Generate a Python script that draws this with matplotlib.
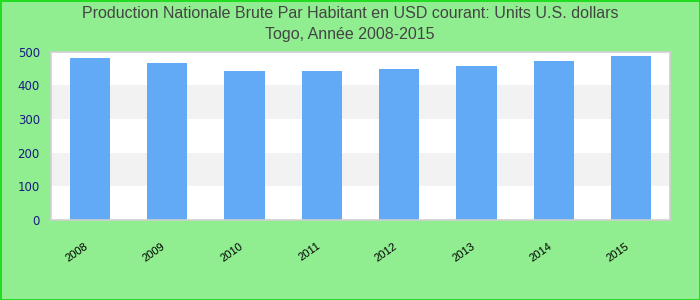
import matplotlib.pyplot as plt

years = ['2008', '2009', '2010', '2011', '2012', '2013', '2014', '2015']
values = [481, 466, 442, 442, 448, 457, 472, 487]
yticks = [0, 100, 200, 300, 400, 500]

fig = plt.figure(figsize=(7, 3), dpi=100)
fig.patch.set_facecolor('#90ee90')
fig.patch.set_edgecolor('#22dd22')
fig.patch.set_linewidth(2)

ax = fig.add_axes([0.0728, 0.2667, 0.8843, 0.5613])
ax.set_facecolor('white')

# alternating bands
for lo in range(100, 500, 200):
    ax.axhspan(lo, lo + 100, color='#f2f2f2', zorder=0, lw=0)

x = list(range(len(years)))
ax.bar(x, values, width=0.52, color='#62aaf5', zorder=2)

ax.set_xlim(-0.5, len(years) - 0.5)
ax.set_ylim(0, 500)
ax.set_yticks(yticks)
ax.set_yticklabels([str(v) for v in yticks], color='#1a1a80', fontsize=8.5)
ax.tick_params(axis='y', length=0, pad=8)
ax.set_xticks(x)
ax.set_xticklabels(years, rotation=35, ha='right', fontsize=8, color='black',
                   family='Liberation Sans')
ax.tick_params(axis='x', length=0, pad=15)

for s in ax.spines.values():
    s.set_color('#d0d0d0')
    s.set_linewidth(1.2)

fig.text(0.5, 0.955, 'Production Nationale Brute Par Habitant en USD courant: Units U.S. dollars',
         ha='center', va='center', fontsize=11.5, color='#444444', family='Liberation Sans')
fig.text(0.5, 0.885, 'Togo, Année 2008-2015',
         ha='center', va='center', fontsize=11.5, color='#444444', family='Liberation Sans')

fig.savefig('out.png', dpi=100, facecolor=fig.get_facecolor(), edgecolor=fig.get_edgecolor())
